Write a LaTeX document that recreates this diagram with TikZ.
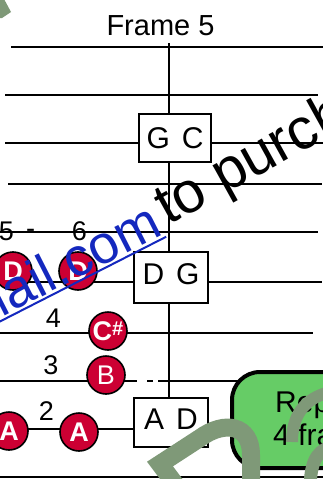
\documentclass[tikz,border=0pt]{standalone}
\usepackage{fontspec}
\setmainfont{Liberation Sans}
\definecolor{notered}{RGB}{204,0,51}
\definecolor{wmgreen}{RGB}{127,153,120}
\definecolor{boxgreen}{RGB}{102,204,102}
\definecolor{wmblue}{RGB}{20,40,190}
\newcommand{\wmuline}[1]{\setbox0\hbox{#1}\rlap{\copy0}\rule[-4pt]{\wd0}{2pt}}
\begin{document}
\begin{tikzpicture}[x=1pt,y=-1pt,
  staff/.style={line width=2.6pt},
  chordbox/.style={draw=black, fill=white, line width=1.8pt, inner sep=0pt, font=\fontsize{30}{30}\selectfont},
  note/.style={circle, draw=black, fill=notered, line width=1.6pt, minimum size=38pt, inner sep=0pt, text=white, font=\bfseries\fontsize{27}{27}\selectfont},
  fretnum/.style={anchor=base, inner sep=0pt, font=\fontsize{27}{27}\selectfont},
  wmstroke/.style={draw=wmgreen, line width=18pt, line join=miter},
]
\useasboundingbox (0,0) rectangle (323,479);
\clip (0,0) rectangle (323,479);
% staff lines
\foreach \y/\a/\b in {47/11/330, 95/5/318, 143/5/330, 184/8/322, 232/0/318, 282/0/322, 333/0/313, 381/0/330, 477/0/330}
  \draw[staff] (\a,\y) -- (\b,\y);
\draw[staff] (0,429) -- (133,429);
\draw[white, line width=3pt] (137,381) -- (147,381) (153,381) -- (158,381);
% title
\node[anchor=base, inner sep=0pt, font=\fontsize{29}{29}\selectfont] (title) at (160.5,35) {Frame 5};
% vertical line
\coordinate (top) at (169,43);
\coordinate (bottom) at (169,397);
\draw[line width=2.8pt] (top) -- (bottom);
% chord boxes
\node[chordbox, minimum width=72pt, minimum height=48pt, text height=21.5pt, text depth=1pt] (gc) at (175,138) {G\hspace{0.4em}C};
\node[chordbox, minimum width=74pt, minimum height=51pt, text height=21.5pt, text depth=8pt] (dg) at (171,277.5) {D\hspace{0.4em}G};
\node[chordbox, minimum width=74pt, minimum height=49pt, text height=21.5pt, text depth=8pt] (ad) at (171,422.5) {A\hspace{0.4em}D};
% notes
\node[note] (d1) at (13,271) {D};
\node[note] (d2) at (78,271) {D};
\node[note] (cs) at (108,331) {C\raisebox{5pt}{\fontsize{20}{20}\selectfont\#}};
\node[note, font=\fontsize{27}{27}\selectfont] (b) at (106,375) {B};
\node[note] (a1) at (9,431) {A};
\node[note] (a2) at (79,432) {A};
% fret numbers
\node[fretnum] (n5) at (17,240) {5\hspace{0.45em}\raisebox{3pt}{-}};
\node[fretnum] (n6) at (79.5,240) {6};
\node[fretnum] (n4) at (53.5,327) {4};
\node[fretnum] (n3) at (51,374) {3};
\node[fretnum] (n2) at (46.5,420) {2};
% green box
\node[draw=black, line width=4pt, fill=boxgreen, rounded corners=28pt, minimum width=170pt, minimum height=96pt, anchor=north west] (rep) at (230,370) {};
\node[anchor=base west, inner sep=0pt, font=\fontsize{30}{30}\selectfont] (rep1) at (275,412) {Repeat};
\node[anchor=base west, inner sep=0pt, font=\fontsize{30}{30}\selectfont] (rep2) at (273,445) {4 frames};
% watermark
\node[anchor=base east, inner sep=0pt, rotate=27, text=wmblue, font=\fontsize{54}{54}\selectfont] (wmb) at (165,234) {\wmuline{order@gmail.com}};
\node[anchor=base west, inner sep=0pt, rotate=29, font=\fontsize{58}{58}\selectfont] (wmt) at (168,226) {to purchase};
\fill[wmgreen] (0,-1) -- (4,-1) -- (11,12) -- (2,18) -- (0,18) -- cycle;
\draw[wmstroke] (181,492) -- (160,464) -- (200,438) .. controls (225,420) and (251,425) .. (251,455) -- (251,492);
\draw[wmstroke, line width=12pt] (292,442) .. controls (292,415) and (305,398) .. (330,392);
\draw[wmstroke, line width=13pt] (310,492) .. controls (310,465) and (315,452) .. (330,447);
\end{tikzpicture}
\end{document}
